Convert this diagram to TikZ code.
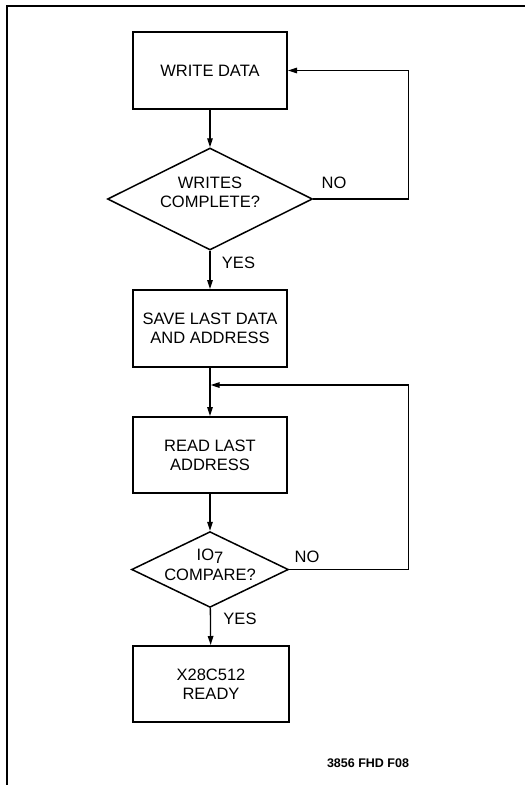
\documentclass[tikz,border=0pt]{standalone}
\usepackage{fontspec}
\setmainfont{Liberation Sans}
\usetikzlibrary{shapes.geometric, arrows.meta, positioning, calc}

\tikzset{
  procbox/.style={draw, line width=2pt, minimum width=154pt, minimum height=77pt, align=center, inner sep=0pt},
  decision/.style={draw, diamond, line width=1.5pt, align=center, inner sep=-3pt},
  flowline/.style={line width=1.3pt, -{Triangle[length=9pt, width=5.5pt]}},
  flowlabel/.style={inner sep=1pt}
}

\begin{document}
\begin{tikzpicture}[x=1pt, y=-1pt, font=\fontsize{16.5}{19}\selectfont]
  \useasboundingbox (0,0) rectangle (525,785);

  % frame
  \draw[line width=1.8pt] (525,6) -- (7,6) -- (7,785);

  % write loop
  \node[procbox] (wdata) at (210,70.5) {WRITE DATA};
  \node[decision, aspect=2, minimum width=205pt, minimum height=102pt] (wdone) at (210,199) {WRITES\\COMPLETE?\\[-6pt]};
  \draw[flowline] (wdata) -- (wdone);
  \draw[flowline] (wdone.east) -- ++(95,0) |- (wdata.east);
  \node[flowlabel] (wno) at (334,182.5) {NO};

  \node[procbox] (save) at (210,328.5) {SAVE LAST DATA\\AND ADDRESS};
  \draw[flowline] (wdone) -- (save);
  \node[flowlabel] (wyes) at (238.5,262.5) {YES};

  % read loop
  \node[procbox, minimum height=76pt] (rdaddr) at (210,455) {READ LAST\\ADDRESS};
  \coordinate (rjoin) at (210,385);
  \draw[flowline] (save) -- (rdaddr);
  \node[decision, aspect=2.07, minimum width=155pt, minimum height=75pt] (iocmp) at (210,569.5) {IO\raisebox{-3pt}{7}\\[1pt]COMPARE?\\[-10pt]};
  \draw[flowline] (rdaddr) -- (iocmp);
  \draw[flowline, shorten >=0.6pt] (iocmp.east) -- ++(119,0) |- (rjoin);
  \node[flowlabel] (cno) at (307,557) {NO};

  \node[procbox, minimum width=156pt, minimum height=76pt] (ready) at (211,684) {X28C512\\READY};
  \draw[flowline] (iocmp) -- (ready);
  \node[flowlabel] (cyes) at (240,618.5) {YES};

  % figure id
  \node[font=\fontsize{12.5}{14}\selectfont\bfseries] (figid) at (368,763) {3856 FHD F08};
\end{tikzpicture}
\end{document}
